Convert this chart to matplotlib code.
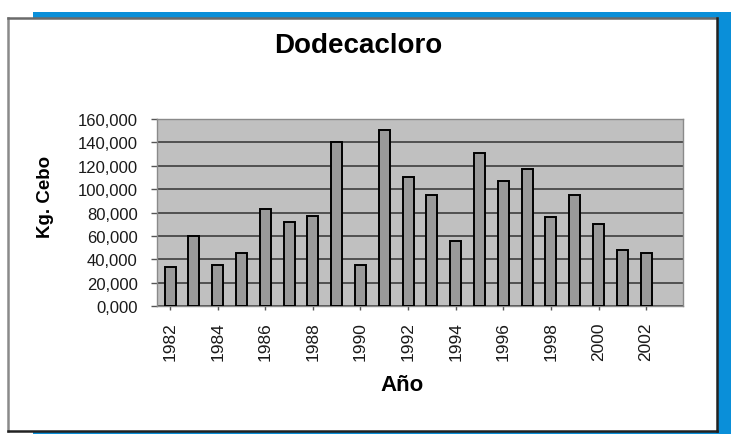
import matplotlib
matplotlib.use("Agg")
import matplotlib.pyplot as plt
from matplotlib.patches import Rectangle
from matplotlib.lines import Line2D
from matplotlib.ticker import FuncFormatter

# datos (kg de cebo por anio)
years = list(range(1982, 2004))
values = [33500, 60000, 35000, 45000, 83000, 72000, 77000, 140000, 35000, 151000,
          110000, 95000, 56000, 131000, 107000, 117000, 76000, 95000, 70000, 48000,
          45000, None]
tick_years = [1982, 1984, 1986, 1988, 1990, 1992, 1994, 1996, 1998, 2000, 2002]
y_ticks = [0, 20000, 40000, 60000, 80000, 100000, 120000, 140000, 160000]

plt.rcParams['font.family'] = ['Liberation Sans', 'DejaVu Sans']

W, H = 731, 435
fig = plt.figure(figsize=(W / 100, H / 100), dpi=100)

# marco azul de fondo y recuadro blanco
blue = '#0a8fd9'
fig.patches.append(Rectangle((33 / W, 1 - 435 / H), 698 / W, 422 / H,
                             transform=fig.transFigure, facecolor=blue,
                             edgecolor='none', zorder=0))
fig.patches.append(Rectangle((7 / W, 1 - 432 / H), 710 / W, 413.5 / H,
                             transform=fig.transFigure, facecolor='white',
                             edgecolor='none', zorder=1))
x0, x1 = 7.5 / W, 716.5 / W
y0, y1 = 1 - 431.5 / H, 1 - 18.5 / H
for xd, yd, c in [([x0, x0], [y0, y1], '#8a8a8a'), ([x0, x1], [y1, y1], '#6a6a6a'),
                  ([x1, x1], [y0, y1], '#222222'), ([x0, x1], [y0, y0], '#222222')]:
    fig.lines.append(Line2D(xd, yd, transform=fig.transFigure, color=c,
                            linewidth=1.8, zorder=2))

ax = fig.add_axes([157 / W, 1 - 307 / H, 526 / W, 187 / H])
ax.set_zorder(3)
ax.set_facecolor('#c0c0c0')

xs = [i for i, v in enumerate(values) if v is not None]
vals = [v for v in values if v is not None]
ax.bar(xs, vals, width=0.46, color='#9a9a9a', edgecolor='black',
       linewidth=1.4, zorder=3)

ax.set_xlim(-0.55, 21.55)
ax.set_ylim(0, 160000)
ax.set_yticks(y_ticks)
ax.yaxis.set_major_formatter(FuncFormatter(lambda v, p: f"{int(v) // 1000},000"))
ax.set_xticks([years.index(y) for y in tick_years])
ax.set_xticklabels([str(y) for y in tick_years], rotation=90)

ax.grid(axis='y', color='#505050', linewidth=1.4, zorder=1)
ax.set_axisbelow(True)
for s in ax.spines.values():
    s.set_color('#8a8a8a')
    s.set_linewidth(1.0)

ax.tick_params(axis='y', length=4, width=1, color='#555555', pad=10,
               labelsize=12, labelcolor='#1a1a1a')
ax.tick_params(axis='x', length=3, width=1, color='#555555', pad=8,
               labelsize=12.5, labelcolor='#1a1a1a')

fig.text(358 / W, 1 - 46 / H, 'Dodecacloro', ha='center', va='center',
         fontsize=20, fontweight='bold', color='black')
fig.text(45 / W, 1 - 197 / H, 'Kg. Cebo', ha='center', va='center',
         rotation=90, fontsize=13.5, fontweight='bold', color='black')
fig.text(402 / W, 1 - 386 / H, 'Año', ha='center', va='center',
         fontsize=16, fontweight='bold', color='black')

fig.savefig('out.png', dpi=100)
